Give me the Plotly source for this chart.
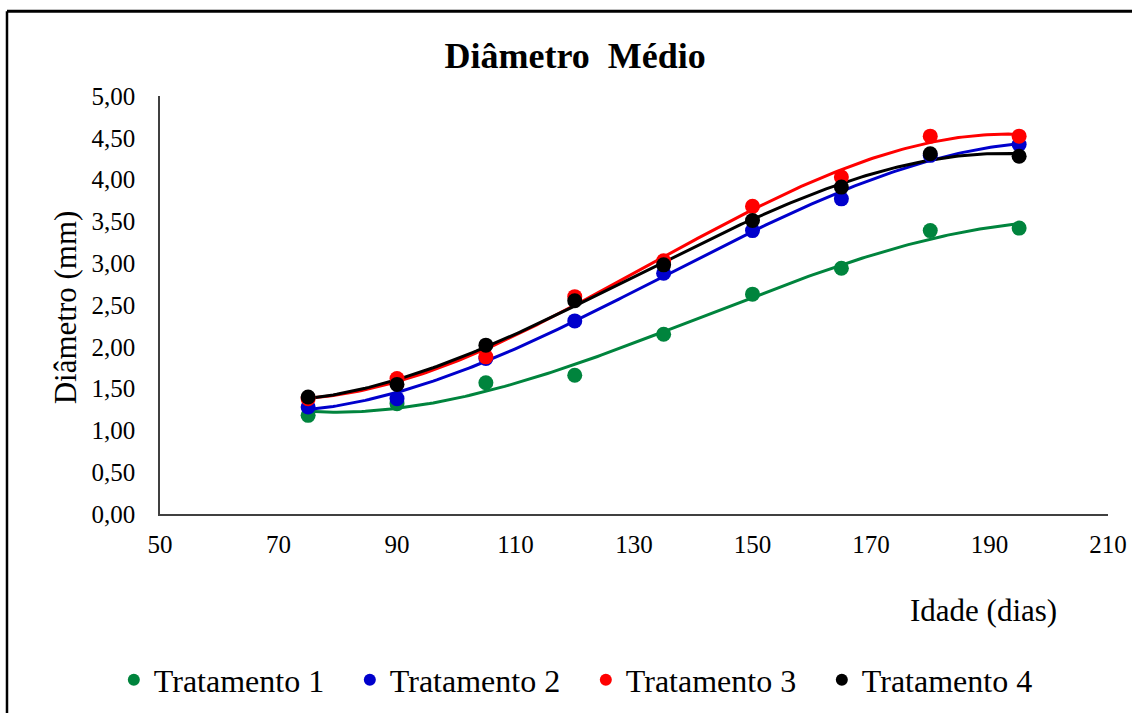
import numpy as np
import plotly.graph_objects as go

# Data
idade = [75, 90, 105, 120, 135, 150, 165, 180, 195]
trat1 = [1.18, 1.32, 1.57, 1.66, 2.15, 2.63, 2.94, 3.39, 3.42]
trat2 = [1.28, 1.38, 1.86, 2.31, 2.88, 3.39, 3.77, 4.29, 4.42]
trat3 = [1.38, 1.62, 1.88, 2.60, 3.03, 3.68, 4.03, 4.52, 4.52]
trat4 = [1.40, 1.55, 2.02, 2.55, 2.98, 3.51, 3.91, 4.31, 4.28]
series_names = ["Tratamento 1", "Tratamento 2", "Tratamento 3", "Tratamento 4"]
colors = ["#00843D", "#0000CC", "#FF0000", "#000000"]
x_ticks = [50, 70, 90, 110, 130, 150, 170, 190, 210]
y_ticks = [0, 0.5, 1, 1.5, 2, 2.5, 3, 3.5, 4, 4.5, 5]
y_ticklabels = [f"{v:.2f}".replace(".", ",") for v in y_ticks]

FONT = "Liberation Serif, Times New Roman, serif"

fig = go.Figure()
all_series = [trat1, trat2, trat3, trat4]
xs = np.array(idade, dtype=float)
xfit = np.linspace(xs.min(), xs.max(), 200)
# trendlines (3rd-order polynomial fit, as in spreadsheet trendlines)
for ys, c in zip(all_series, colors):
    coef = np.polyfit(xs, np.array(ys), 3)
    fig.add_trace(go.Scatter(x=xfit, y=np.polyval(coef, xfit), mode="lines",
                             line=dict(color=c, width=3), showlegend=False,
                             hoverinfo="skip"))
for ys, c, n in zip(all_series, colors, series_names):
    fig.add_trace(go.Scatter(x=idade, y=ys, mode="markers", name=n,
                             marker=dict(color=c, size=15)))

fig.update_layout(
    width=1132, height=713,
    paper_bgcolor="white", plot_bgcolor="white",
    margin=dict(l=160, r=24, t=96, b=199, autoexpand=False),
    font=dict(family=FONT, color="black", size=25),
    title=dict(text="<b>Diâmetro  Médio</b>", x=0.508, xanchor="center",
               y=0.922, yanchor="middle", font=dict(size=36, family=FONT),
               automargin=False),
    showlegend=True,
    legend=dict(orientation="h", x=-0.0487, xanchor="left", y=-0.397, yanchor="middle",
                font=dict(size=32, family=FONT), itemsizing="constant",
                entrywidth=191, entrywidthmode="pixels"),
)
fig.update_xaxes(range=[50, 210], tickvals=x_ticks, ticks="", showgrid=False,
                 zeroline=False, showline=True, linecolor="#404040", linewidth=1.5,
                 tickfont=dict(size=25), ticklabelstandoff=7, automargin=False)
fig.update_yaxes(range=[0, 5], tickvals=y_ticks, ticktext=y_ticklabels, ticks="",
                 showgrid=False, zeroline=False, showline=True, linecolor="#404040",
                 linewidth=1.5, tickfont=dict(size=25), ticklabelstandoff=18,
                 automargin=False)

fig.add_annotation(text="Idade (dias)", xref="paper", yref="paper", x=0.869, y=-0.23,
                   xanchor="center", yanchor="middle", showarrow=False,
                   font=dict(size=31, family=FONT))
fig.add_annotation(text="Diâmetro (mm)", xref="paper", yref="paper", x=-0.1, y=0.495,
                   xanchor="center", yanchor="middle", showarrow=False, textangle=-90,
                   font=dict(size=31, family=FONT))

# outer frame (top and left edges)
fig.add_shape(type="line", xref="paper", yref="paper", x0=-0.1614, x1=1.03,
              y0=1.203, y1=1.203, line=dict(color="black", width=3))
fig.add_shape(type="line", xref="paper", yref="paper", x0=-0.1614, x1=-0.1614,
              y0=1.203, y1=-0.5, line=dict(color="black", width=2.5))

fig.write_html("out.html", config={"displayModeBar": False},
               post_script="document.body.style.margin='0';")
